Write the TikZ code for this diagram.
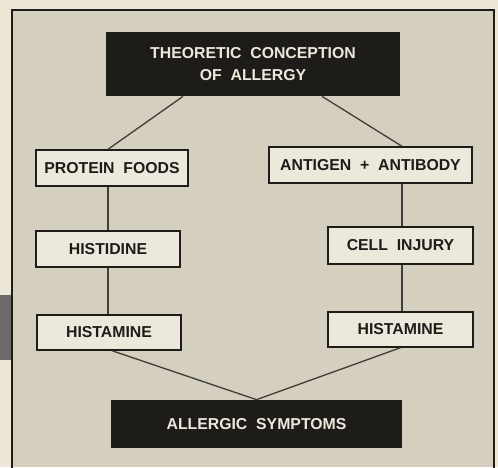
\documentclass[tikz,border=0pt]{standalone}
\usepackage{fontspec}
\setmainfont{Liberation Sans}
\usepackage{xcolor}

\definecolor{paper}{RGB}{236,231,214}
\definecolor{panel}{RGB}{212,207,191}
\definecolor{ink}{RGB}{30,28,25}
\definecolor{boxfill}{RGB}{236,232,220}

\begin{document}
\begin{tikzpicture}[
		darkbox/.style={fill=ink, text=boxfill, font=\bfseries\fontsize{9}{12.5}\selectfont, align=center, inner sep=0pt},
		lightbox/.style={draw=ink, line width=0.8pt, fill=boxfill, text=ink, font=\bfseries\fontsize{9}{11}\selectfont, inner sep=0pt, minimum height=0.72cm},
		link/.style={draw=ink!85, line width=0.75pt}
	]
				% Page and panel
				\useasboundingbox[fill=paper] (0,0) rectangle (9.96,9.34);
				\fill[panel] (0.24,0) rectangle (9.88,9.14);
				\draw[ink, line width=0.8pt] (0.24,-0.1) -- (0.24,9.14) -- (9.88,9.14) -- (9.88,-0.1);
				\fill[ink!65] (0,2.14) rectangle (0.22,3.44);
				
				% Top and bottom boxes
				\node[darkbox, minimum width=5.88cm, minimum height=1.28cm] (top) at (5.06,8.06) {THEORETIC\ \ CONCEPTION\\OF\ \ ALLERGY};
				\node[darkbox, minimum width=5.82cm, minimum height=0.96cm] (bot) at (5.13,0.86) {ALLERGIC\ \ SYMPTOMS};
				
				% Left chain
				\node[lightbox, minimum width=3.04cm] (pf) at (2.24,5.98) {PROTEIN\ \ FOODS};
				\node[lightbox, minimum width=2.88cm] (hd) at (2.16,4.36) {HISTIDINE};
				\node[lightbox, minimum width=2.88cm, minimum height=0.70cm] (hmL) at (2.18,2.69) {HISTAMINE};
				
				% Right chain
				\node[lightbox, minimum width=4.06cm] (ag) at (7.41,6.04) {ANTIGEN\ \ +\ \ ANTIBODY};
				\node[lightbox, minimum width=2.90cm, minimum height=0.74cm] (ci) at (8.01,4.43) {CELL\ \ INJURY};
				\node[lightbox, minimum width=2.90cm, minimum height=0.70cm] (hmR) at (8.01,2.75) {HISTAMINE};
				
				% Connectors
				\draw[link] ([xshift=-1.40cm]top.south) -- (hd.north |- pf.north);
				\draw[link] (hd.north |- pf.south) -- (hd.north);
				\draw[link] (hd.south) -- (hd.south |- hmL.north);
				\draw[link] ([xshift=1.38cm]top.south) -- ([xshift=0.03cm]ci.north |- ag.north);
				\draw[link] ([xshift=0.03cm]ci.north |- ag.south) -- ([xshift=0.03cm]ci.north);
				\draw[link] ([xshift=0.03cm]ci.south) -- ([xshift=0.03cm]ci.south |- hmR.north);
				\draw[link] ([xshift=0.06cm]hmL.south) -- (bot.north) -- (hmR.south);
			\end{tikzpicture}
\end{document}
